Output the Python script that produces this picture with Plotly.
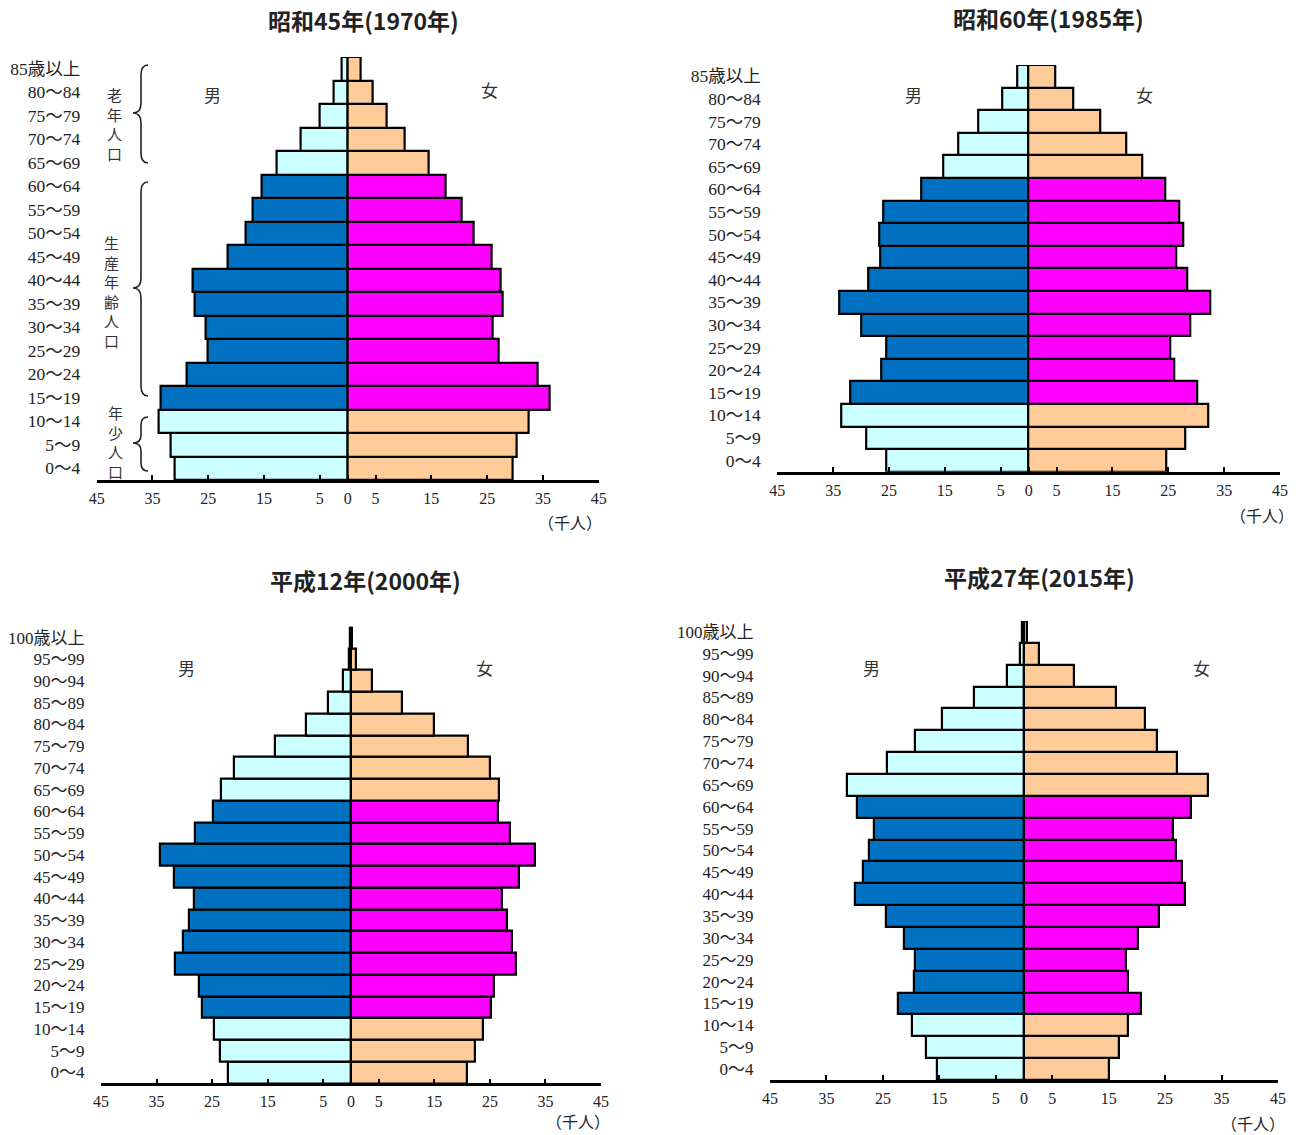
import plotly.graph_objects as go

# ---------------- data (thousand persons), ordered from youngest to oldest ----------------
ages_85 = ["0～4", "5～9", "10～14", "15～19", "20～24", "25～29", "30～34", "35～39",
           "40～44", "45～49", "50～54", "55～59", "60～64", "65～69", "70～74",
           "75～79", "80～84", "85歳以上"]
ages_100 = ["0～4", "5～9", "10～14", "15～19", "20～24", "25～29", "30～34", "35～39",
            "40～44", "45～49", "50～54", "55～59", "60～64", "65～69", "70～74",
            "75～79", "80～84", "85～89", "90～94", "95～99", "100歳以上"]

male_1970 = [31.0, 31.7, 33.9, 33.5, 28.8, 25.1, 25.5, 27.5, 27.8, 21.5, 18.2, 17.0, 15.5, 12.7, 8.5, 5.0, 2.5, 1.0]
female_1970 = [29.5, 30.3, 32.4, 36.2, 34.1, 27.1, 26.0, 27.8, 27.4, 25.9, 22.5, 20.4, 17.5, 14.5, 10.3, 7.0, 4.5, 2.4]

male_1985 = [25.4, 29.1, 33.5, 32.0, 26.4, 25.4, 29.9, 33.9, 28.7, 26.5, 26.7, 26.1, 19.3, 15.2, 12.6, 9.0, 4.8, 2.1]
female_1985 = [24.6, 28.0, 32.2, 30.2, 26.0, 25.3, 28.9, 32.6, 28.4, 26.5, 27.6, 27.0, 24.5, 20.4, 17.5, 12.9, 8.0, 4.8]

male_2000 = [22.1, 23.5, 24.7, 26.9, 27.3, 31.6, 30.3, 29.2, 28.3, 31.8, 34.4, 28.0, 24.9, 23.4, 21.1, 13.6, 8.1, 4.1, 1.4, 0.3, 0.1]
female_2000 = [20.9, 22.4, 23.8, 25.2, 25.8, 29.7, 29.0, 28.1, 27.1, 30.3, 33.2, 28.7, 26.5, 26.7, 25.1, 21.1, 15.0, 9.2, 3.8, 0.9, 0.2]

male_2015 = [15.4, 17.3, 19.8, 22.3, 19.5, 19.3, 21.2, 24.4, 29.9, 28.5, 27.4, 26.5, 29.6, 31.3, 24.2, 19.3, 14.5, 8.8, 3.0, 0.7, 0.3]
female_2015 = [15.0, 16.8, 18.4, 20.7, 18.4, 18.1, 20.2, 23.9, 28.5, 28.0, 26.9, 26.4, 29.6, 32.6, 27.1, 23.5, 21.4, 16.3, 8.8, 2.7, 0.5]

titles = ["昭和45年(1970年)", "昭和60年(1985年)", "平成12年(2000年)", "平成27年(2015年)"]
tick_vals = [-45, -35, -25, -15, -5, 0, 5, 15, 25, 35, 45]
tick_text = ["45", "35", "25", "15", "5", "0", "5", "15", "25", "35", "45"]

# ---------------- styling ----------------
W, H = 1307, 1135
C_M_WORK, C_M_OTHER = "#0070C0", "#CCFFFF"
C_F_WORK, C_F_OTHER = "#FF00FF", "#FFCC99"
SERIF = "Liberation Serif, Noto Sans CJK JP"
SANS = "Noto Sans CJK JP"


def pxx(x):
    return x / W


def pxy(y):
    return 1 - y / H


def is_work(i):
    return 3 <= i <= 12  # 15～64


panels = [
    dict(ages=ages_85, male=male_1970, female=female_1970, x0=96.7, x1=598.7, y0=57, y1=480, fs=17.5,
         title_xy=(363, 20), unit_xy=(570, 524), m_xy=(212, 95), f_xy=(489, 90)),
    dict(ages=ages_85, male=male_1985, female=female_1985, x0=777.3, x1=1280, y0=65, y1=471.7, fs=17.5,
         title_xy=(1048, 18), unit_xy=(1262, 517), m_xy=(913, 94), f_xy=(1144, 94)),
    dict(ages=ages_100, male=male_2000, female=female_2000, x0=101, x1=601, y0=626.7, y1=1083.3, fs=17,
         title_xy=(365, 580), unit_xy=(578, 1122), m_xy=(186, 667), f_xy=(484, 667)),
    dict(ages=ages_100, male=male_2015, female=female_2015, x0=770, x1=1278, y0=621, y1=1080, fs=17,
         title_xy=(1039, 577), unit_xy=(1253, 1124), m_xy=(871, 667), f_xy=(1201, 667)),
]

fig = go.Figure()
annotations = []
layout_axes = {}

for k, p in enumerate(panels):
    sfx = "" if k == 0 else str(k + 1)
    n = len(p["ages"])
    mcol = [C_M_WORK if is_work(i) else C_M_OTHER for i in range(n)]
    fcol = [C_F_WORK if is_work(i) else C_F_OTHER for i in range(n)]
    fig.add_trace(go.Bar(
        y=p["ages"], x=[-v for v in p["male"]], orientation="h",
        marker=dict(color=mcol, line=dict(color="black", width=2.2)),
        xaxis="x" + sfx, yaxis="y" + sfx, showlegend=False, hoverinfo="skip"))
    fig.add_trace(go.Bar(
        y=p["ages"], x=p["female"], orientation="h",
        marker=dict(color=fcol, line=dict(color="black", width=2.2)),
        xaxis="x" + sfx, yaxis="y" + sfx, showlegend=False, hoverinfo="skip"))

    layout_axes["xaxis" + sfx] = dict(
        domain=[pxx(p["x0"]), pxx(p["x1"])], range=[-45, 45], anchor="y" + sfx,
        tickvals=tick_vals, ticktext=tick_text, ticks="inside", ticklen=5, tickwidth=1.5,
        tickcolor="black", showline=True, linewidth=2.5, linecolor="black",
        showgrid=False, zeroline=False, ticklabelstandoff=2, automargin=False,
        tickfont=dict(family=SERIF, size=16, color="#222"), fixedrange=True)
    layout_axes["yaxis" + sfx] = dict(
        domain=[pxy(p["y1"]), pxy(p["y0"])], anchor="x" + sfx, type="category",
        categoryorder="array", categoryarray=p["ages"], range=[-0.5, n - 0.5],
        tickmode="array", tickvals=p["ages"], ticktext=p["ages"],
        showline=False, showgrid=False, zeroline=False, ticks="outside", ticklen=12,
        tickcolor="rgba(0,0,0,0)", tickfont=dict(family=SERIF, size=p["fs"], color="#222"),
        automargin=False, fixedrange=True)

    tx, ty = p["title_xy"]
    annotations.append(dict(text="<b>" + titles[k] + "</b>", x=pxx(tx), y=pxy(ty), xref="paper", yref="paper",
                            showarrow=False, xanchor="center", yanchor="middle",
                            font=dict(family=SANS, size=23, color="#222")))
    ux, uy = p["unit_xy"]
    annotations.append(dict(text="（千人）", x=pxx(ux), y=pxy(uy), xref="paper", yref="paper",
                            showarrow=False, xanchor="center", yanchor="middle",
                            font=dict(family=SERIF, size=16, color="#222")))
    for lbl, (lx, ly) in (("男", p["m_xy"]), ("女", p["f_xy"])):
        annotations.append(dict(text=lbl, x=pxx(lx), y=pxy(ly), xref="paper", yref="paper",
                                showarrow=False, xanchor="center", yanchor="middle",
                                font=dict(family=SANS, size=17, color="#333")))

# vertical group labels (1970 panel)
for txt, (gx, gy) in (("老<br>年<br>人<br>口", (114, 124)),
                      ("生<br>産<br>年<br>齢<br>人<br>口", (111, 292)),
                      ("年<br>少<br>人<br>口", (115, 442))):
    annotations.append(dict(text=txt, x=pxx(gx), y=pxy(gy), xref="paper", yref="paper",
                            showarrow=False, xanchor="center", yanchor="middle",
                            font=dict(family=SANS, size=15, color="#333")))


def brace(xr, xs, xt, yt, ym, yb, r):
    pts = [
        ("M", [(xr, yt)]),
        ("Q", [(xs, yt), (xs, yt + r)]),
        ("L", [(xs, ym - r)]),
        ("Q", [(xs, ym), (xt, ym)]),
        ("Q", [(xs, ym), (xs, ym + r)]),
        ("L", [(xs, yb - r)]),
        ("Q", [(xs, yb), (xr, yb)]),
    ]
    s = ""
    for cmd, cs in pts:
        s += cmd + " ".join("%.5f,%.5f" % (pxx(a), pxy(b)) for a, b in cs) + " "
    return s.strip()


shapes = []
for yt, ym, yb, r in ((65, 113, 163, 10), (182, 288, 396, 10), (417, 443, 471, 8)):
    shapes.append(dict(type="path", path=brace(148, 141, 133, yt, ym, yb, r), xref="paper", yref="paper",
                       line=dict(color="#222", width=1.6)))

fig.update_layout(
    width=W, height=H, margin=dict(l=0, r=0, t=0, b=0, pad=0), autosize=False,
    paper_bgcolor="white", plot_bgcolor="white",
    barmode="relative", bargap=0,
    annotations=annotations, shapes=shapes,
    **layout_axes)

fig.write_html(
    "out.html",
    config={"displayModeBar": False},
    post_script="document.body.style.margin='0';document.body.style.padding='0';"
                "document.documentElement.style.overflow='hidden';")
